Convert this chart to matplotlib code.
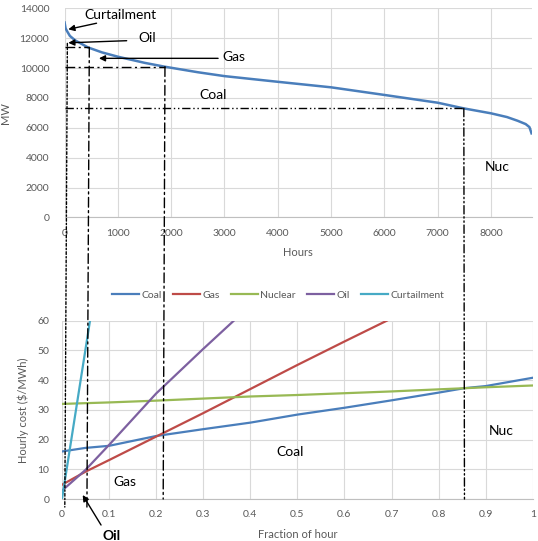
import matplotlib
matplotlib.use("Agg")
import matplotlib.pyplot as plt
from matplotlib.patches import ConnectionPatch

plt.rcParams['font.family'] = ['Lato', 'DejaVu Sans']

# load duration curve (top)
ldc_hours = [0, 20, 50, 100, 200, 440, 700, 1000, 1500, 1880, 2500, 3000, 4000,
             5000, 6000, 7000, 7490, 8000, 8300, 8500, 8650, 8720, 8760]
ldc_mw = [13050, 12650, 12450, 12150, 11850, 11380, 11050, 10760, 10350, 10090,
          9720, 9460, 9080, 8710, 8200, 7680, 7300, 6970, 6720, 6470, 6250, 6050, 5630]

# hourly cost curves (bottom)
coal_x = [0, 0.05, 0.1, 0.2, 0.3, 0.4, 0.5, 0.6, 0.7, 0.8, 0.855, 0.9, 1.0]
coal_y = [16, 17.2, 17.9, 21.2, 23.5, 25.7, 28.4, 30.7, 33.2, 35.8, 37.3, 38.0, 40.8]
gas_x = [0, 0.05, 0.1, 0.2, 0.3, 0.4, 0.5, 0.6, 0.69]
gas_y = [4.8, 9.2, 13.1, 21.0, 28.9, 37.0, 45.1, 53.0, 60]
nuc_x = [0, 0.1, 0.2, 0.3, 0.4, 0.5, 0.6, 0.7, 0.8, 0.9, 1.0]
nuc_y = [32, 32.5, 33.1, 33.8, 34.5, 35.0, 35.6, 36.2, 36.9, 37.6, 38.2]
oil_x = [0, 0.05, 0.1, 0.2, 0.3, 0.365]
oil_y = [2.8, 9.8, 18.2, 35.5, 50.5, 60]
cur_x = [0, 0.0595]
cur_y = [0, 60]

# breakpoints: fraction of hour, MW on the duration curve, end of vertical line in bottom axes
break_frac = [0.006, 0.053, 0.215, 0.855]
break_mw = [11650, 11380, 10090, 7300]
break_end = [-2.7, -2.7, 0, 0]
break_style = [(0, (2, 1.5, 1, 1.5)), (0, (7, 2.5, 1.5, 2.5)), (0, (7, 2.5, 1.5, 2.5)),
               (0, (6, 2, 1, 2, 1, 2))]
HOURS = 8760

grey = '#595959'
grid = '#d9d9d9'

fig = plt.figure(figsize=(5.38, 5.41), dpi=100)
ax1 = fig.add_axes([0.120, 0.598, 0.868, 0.3867])
ax2 = fig.add_axes([0.1152, 0.0776, 0.875, 0.3296])

# ---- top: load duration curve
ax1.plot(ldc_hours, ldc_mw, color='#4a7ebb', lw=1.8, zorder=3)
ax1.set_xlim(0, HOURS)
ax1.set_ylim(0, 14000)
ax1.set_xticks(range(0, 9000, 1000))
ax1.set_yticks(range(0, 16000, 2000))
ax1.set_xlabel('Hours', color=grey, fontsize=8, labelpad=7)
ax1.set_ylabel('MW', color=grey, fontsize=8, labelpad=6)

# ---- bottom: cost curves
ax2.plot(coal_x, coal_y, color='#4a7ebb', lw=1.6, label='Coal')
ax2.plot(gas_x, gas_y, color='#be4b48', lw=1.6, label='Gas')
ax2.plot(nuc_x, nuc_y, color='#98b954', lw=1.6, label='Nuclear')
ax2.plot(oil_x, oil_y, color='#7d60a0', lw=1.6, label='Oil')
ax2.plot(cur_x, cur_y, color='#46aac5', lw=1.6, label='Curtailment')
ax2.set_xlim(0, 1)
ax2.set_ylim(0, 60)
ax2.set_xticks([i / 10 for i in range(11)])
ax2.set_xticklabels(['0', '0.1', '0.2', '0.3', '0.4', '0.5', '0.6', '0.7', '0.8', '0.9', '1'])
ax2.set_yticks(range(0, 70, 10))
ax2.set_xlabel('Fraction of hour', color=grey, fontsize=8, labelpad=7)
ax2.set_ylabel('Hourly cost ($/MWh)', color=grey, fontsize=8, labelpad=6)

for ax in (ax1, ax2):
    ax.grid(True, color=grid, lw=0.8)
    ax.set_axisbelow(True)
    for s in ('top', 'right', 'left'):
        ax.spines[s].set_visible(False)
    ax.spines['bottom'].set_color('#bfbfbf')
    ax.tick_params(length=0, labelsize=7.5, colors=grey)
ax1.tick_params(axis='y', pad=11)
ax1.tick_params(axis='x', pad=8)
ax2.tick_params(axis='y', pad=9)
ax2.tick_params(axis='x', pad=8)

fig.legend(loc='center', bbox_to_anchor=(0.517, 0.4547), ncol=5, frameon=False,
           fontsize=7.5, handlelength=2.6, handletextpad=0.2, columnspacing=1.1,
           labelcolor=grey)

# ---- breakpoint lines
for f, mw, yend, ls in zip(break_frac, break_mw, break_end, break_style):
    h = f * HOURS
    con = ConnectionPatch(xyA=(h, mw), coordsA=ax1.transData,
                          xyB=(f, yend), coordsB=ax2.transData,
                          color='black', lw=1.0, linestyle=ls, zorder=5)
    fig.add_artist(con)
    if f > 0.01:
        ax1.plot([0, h], [mw, mw], color='black', lw=1.0, linestyle=ls, zorder=4)

# ---- annotations top
fs = 10
arrow = dict(arrowstyle='-|>', color='black', lw=1.0, mutation_scale=9, shrinkA=0, shrinkB=0)
ax1.annotate('', xy=(70, 12590), xytext=(600, 13000), arrowprops=arrow)
ax1.text(1040, 13580, 'Curtailment', ha='center', va='center', fontsize=fs)
ax1.annotate('', xy=(70, 11690), xytext=(1165, 11830), arrowprops=arrow)
ax1.text(1550, 11990, 'Oil', ha='center', va='center', fontsize=fs)
ax1.annotate('', xy=(645, 10650), xytext=(2880, 10650), arrowprops=arrow)
ax1.text(3180, 10730, 'Gas', ha='center', va='center', fontsize=fs)
ax1.text(2790, 8190, 'Coal', ha='center', va='center', fontsize=fs)
ax1.text(8120, 3350, 'Nuc', ha='center', va='center', fontsize=fs)

# ---- annotations bottom
ax2.text(0.134, 5.8, 'Gas', ha='center', va='center', fontsize=fs)
ax2.text(0.485, 15.9, 'Coal', ha='center', va='center', fontsize=fs)
ax2.text(0.933, 22.9, 'Nuc', ha='center', va='center', fontsize=fs)
ax2.annotate('', xy=(0.044, 1.35), xytext=(0.083, -8.75), arrowprops=arrow,
             annotation_clip=False)
ax2.text(0.106, -12.5, 'Oil', ha='center', va='center', fontsize=fs, fontweight='bold')

fig.savefig('out.png', dpi=100)
